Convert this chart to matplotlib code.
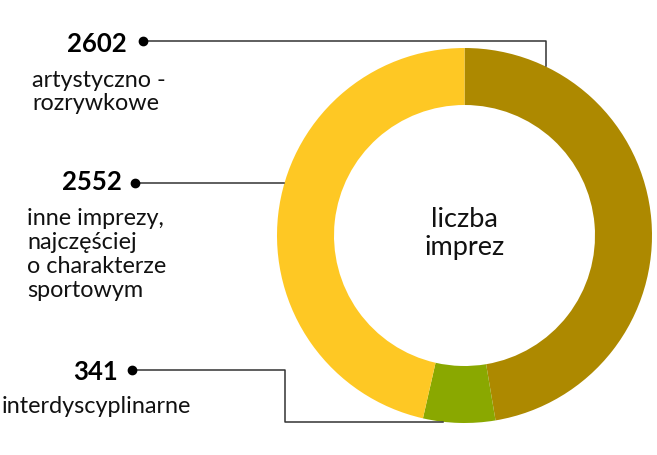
import matplotlib
matplotlib.use("Agg")
import matplotlib.pyplot as plt

values = [2602, 341, 2552]
numbers = ["2602", "341", "2552"]
labels = [["artystyczno -", "rozrywkowe"], ["interdyscyplinarne"],
          ["inne imprezy,", "najczęściej", "o charakterze", "sportowym"]]
colors = ["#AD8900", "#8AA800", "#FEC824"]
center_text = ["liczba", "imprez"]

W, H = 657, 455
fig = plt.figure(figsize=(W / 100, H / 100), dpi=100)
ax = fig.add_axes([0, 0, 1, 1])
FONT = "Lato"

def Y(y):
    return H - y

cx, cy, R, wd = 464.5, 235.5, 187.5, 57
ax.pie(values, colors=colors, startangle=90, counterclock=False,
       center=(cx, Y(cy)), radius=R, wedgeprops=dict(width=wd, linewidth=0),
       frame=True)
ax.set_xlim(0, W)
ax.set_ylim(0, H)
ax.set_aspect("equal")
ax.axis("off")

tc = "#111111"
# center text
ax.text(cx, Y(227), center_text[0], ha="center", va="baseline", fontsize=19.5,
        family=FONT, color=tc)
ax.text(cx, Y(255), center_text[1], ha="center", va="baseline", fontsize=19.5,
        family=FONT, color=tc)

lc = "#333333"
# leader lines
ax.plot([143, 546, 546], [Y(40.5), Y(40.5), Y(66)], color=lc, lw=1.1)
ax.plot([143], [Y(40.5)], "o", color="black", ms=6)
ax.plot([135, 284], [Y(183), Y(183)], color=lc, lw=1.1)
ax.plot([135], [Y(183)], "o", color="black", ms=6)
ax.plot([132, 285, 285, 443], [Y(370), Y(370), Y(421.5), Y(421.5)], color=lc, lw=1.1)
ax.plot([132], [Y(370)], "o", color="black", ms=6)

# numbers
num_pos = [(127, 52.5), (118, 380), (122, 190.5)]
for n, (x, y) in zip(numbers, num_pos):
    ax.text(x, Y(y), n, ha="right", va="baseline", fontsize=18.5,
            fontweight="bold", family=FONT, color="black")

# labels
lab_pos = [(32, [87, 110]), (2, [413]), (27, [225, 249, 273, 297])]
for lines, (x, ys) in zip(labels, lab_pos):
    for t, y in zip(lines, ys):
        ax.text(x, Y(y), t, ha="left", va="baseline", fontsize=16.8,
                family=FONT, color=tc)

fig.savefig("out.png", dpi=100)
